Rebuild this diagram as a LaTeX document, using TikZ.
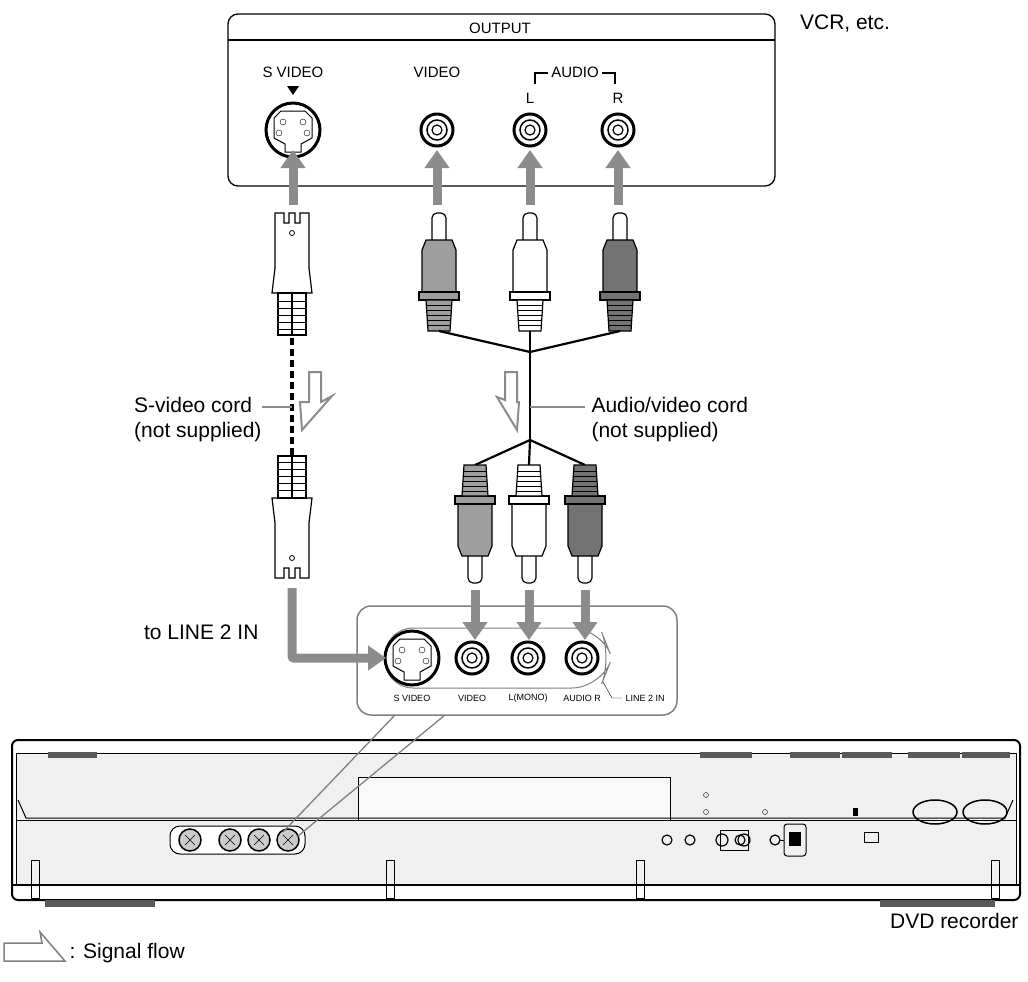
\documentclass[tikz,border=0pt]{standalone}
\usepackage{fontspec}
\setmainfont{Liberation Sans}
\usetikzlibrary{arrows.meta}
\definecolor{fl}{gray}{0.55}
\definecolor{pg}{gray}{0.62}
\definecolor{dg}{gray}{0.45}
\tikzset{
  flow/.style={line width=9pt,draw=fl,-{Triangle[width=24pt,length=18pt]}},
  lbl/.style={font=\fontsize{21}{25}\selectfont,align=left},
  sm/.style={font=\fontsize{15}{18}\selectfont},
  tiny/.style={font=\fontsize{9}{11}\selectfont},
  hollow/.style={draw=fl,line width=2pt,fill=white},
  ln/.style={line width=1.2pt},
  jack/.pic={\draw[line width=3pt,fill=white] (0,0) circle (16);\draw[line width=1.5pt] (0,0) circle (10);\draw[line width=1.2pt](0,0) circle (5);},
  sjack/.pic={\draw[line width=3pt,fill=white] (0,0) circle (27);\draw[line width=1pt] (-19,-12) -- (-12,-19) -- (12,-19) -- (19,-12) -- (19,8) -- (8,14)--(8,22)--(-8,22)--(-8,14)--(-19,8)--cycle;
    \foreach \a/\b in {-10/-8,10/-8,-14/3,14/3}{\draw (\a,\b) circle (3);}},
  rca/.pic={\draw[ln,fill=white,rounded corners=5] (-7,28) -- (-7,0) -- (7,0) -- (7,28);
    \draw[ln,fill=\pcol] (-13,27) -- (13,27) -- (17,37) -- (17,79) -- (-17,79) -- (-17,37) -- cycle;
    \draw[ln,fill=\pcol] (-20,79) rectangle (20,87);
    \draw[ln,fill=\pcol] (-13,87) -- (13,87) -- (11,118) -- (-11,118) -- cycle;
    \foreach \y in {92,97,...,115}{\draw (-12,\y) -- (12,\y);}},
  svp/.pic={\draw[ln,fill=white] (-17,0) -- (-8,0) -- (-8,10) -- (-3,10) -- (-3,0) -- (3,0) -- (3,10) -- (8,10) -- (8,0) -- (17,0) -- (17,55) -- (20,80) -- (-20,80) -- (-17,55) -- cycle;
    \draw[line width=0.8pt] (0,20) circle (2.5);
    \draw[ln,fill=white] (-14,80) rectangle (14,122);
    \draw[ln] (0,80) -- (0,122);
    \foreach \y in {88,95,...,118}{\draw (-14,\y) -- (14,\y);}}
}
\newcommand{\pcol}{white}
\begin{document}
\begin{tikzpicture}[x=1pt,y=-1pt]
\useasboundingbox (0,0) rectangle (1028,982);
\fill[white] (0,0) rectangle (1028,982);
% top VCR panel
\draw[line width=1.3pt,rounded corners=10] (228,14) rectangle (775,186);
\draw[line width=1.2pt] (228,40) -- (775,40);
\node[sm] (out) at (500,28) {OUTPUT};
\node[lbl] (vcr) at (845,24) {VCR, etc.};
\node[sm] (tsv) at (293,72) {S VIDEO};
\node[sm] (tvid) at (437,72) {VIDEO};
\node[sm] (taud) at (575,72) {AUDIO};
\draw[line width=1.2pt] (535,84)--(535,73)--(548,73);
\draw[line width=1.2pt] (602,73)--(615,73)--(615,84);
\node[sm] (tl) at (530,98) {L};
\node[sm] (tr) at (618,98) {R};
\fill (287,86)--(299,86)--(293,95)--cycle;
\pic at (293,130) {sjack};
\pic at (437,130) {jack};
\pic at (530,130) {jack};
\pic at (618,130) {jack};
\foreach \x in {293,437,530,618}{\draw[flow] (\x,205) -- (\x,150);}
% S-video cord
\pic at (292,213) {svp};
\pic[yscale=-1,transform shape] at (292,578) {svp};
\draw[line width=4pt,dash pattern=on 7pt off 4pt] (292,338) -- (292,456);
% AV cord
\renewcommand{\pcol}{pg}\pic at (439,213) {rca};
\renewcommand{\pcol}{white}\pic at (530,213) {rca};
\renewcommand{\pcol}{dg}\pic at (620,213) {rca};
\coordinate (j1) at (530,352); \coordinate (j2) at (530,440);
\draw[line width=2.2pt] (439,331) -- (j1) -- (620,331);
\draw[line width=2.2pt] (530,331) -- (j2);
\draw[line width=2.2pt] (475,465) -- (j2) -- (585,465);
\draw[line width=2.2pt] (529,465) -- (j2);
\renewcommand{\pcol}{pg}\pic[yscale=-1,transform shape] at (475,583) {rca};
\renewcommand{\pcol}{white}\pic[yscale=-1,transform shape] at (529,583) {rca};
\renewcommand{\pcol}{dg}\pic[yscale=-1,transform shape] at (585,583) {rca};
% hollow flow arrows
\draw[hollow] (309,372) -- (321,372) -- (321,402) -- (332,396) -- (302,430) -- (300,402) -- (309,402) -- cycle;
\draw[hollow] (505,372) -- (517,372) -- (517,402) -- (519,402) -- (517,430) -- (497,397) -- (505,400) -- cycle;
% labels
\node[lbl,anchor=east] (svc) at (265,420) {S-video cord\\(not supplied)};
\draw[draw=fl,line width=1.3pt] (262,407) -- (292,407);
\node[lbl,anchor=west] (avc) at (588,420) {Audio/video cord\\(not supplied)};
\draw[draw=fl,line width=1.3pt] (530,407) -- (585,407);
\node[lbl,anchor=east] (l2) at (262,632) {to LINE 2 IN};
% recorder
\draw[line width=2pt,rounded corners=6] (12,740) rectangle (1020,900);
\draw[line width=1pt,fill=gray!12] (16,753) rectangle (1016,820);
\draw[line width=1pt,fill=gray!12] (16,820) rectangle (1016,885);
\draw[line width=1.2pt] (12,885) -- (1020,885);
\foreach \a/\b in {48/97,700/752,790/840,842/892,908/960,962/1010}{\fill[gray!70!black] (\a,752) rectangle (\b,758);}
\draw[line width=1pt,fill=gray!5] (358,777) rectangle (670,820);
\draw[line width=1pt] (18,800) -- (26,818) -- (1005,818) -- (1013,800);
\draw (706,795) circle (2.5);
\draw (706,812) circle (2.5);
\draw (765,812) circle (2.5);
\fill (853,808) rectangle (858,816);
\draw[line width=1.5pt] (935,812) ellipse (22 and 12);
\draw[line width=1.5pt] (985,812) ellipse (22 and 12);
\draw[line width=1pt,fill=white,rounded corners=10] (170,826) rectangle (305,854);
\foreach \x in {190,230,259,288}{\draw[line width=1.5pt,fill=gray!40] (\x,840) circle (11);\draw (\x-5,835)--(\x+5,845) (\x-5,845)--(\x+5,835);}
\foreach \x in {667,690,740,775}{\draw[line width=1.2pt] (\x,840) circle (5);}
\draw[line width=1pt] (720,830) rectangle (748,850);
\draw[line width=1.2pt] (722,840) circle (6);\draw[line width=1.2pt] (744,840) circle (6);
\draw[line width=1pt,rounded corners=3] (784,824) rectangle (806,856);
\fill (789,832) rectangle (801,846);
\draw (780,840)--(784,840);
\draw[line width=1pt] (864,832) rectangle (878,842);
\foreach \x in {35,390,640,995}{\draw[line width=1pt] (\x-4,860) rectangle (\x+4,898);}
\fill[gray!70!black] (45,900) rectangle (155,907);
\fill[gray!70!black] (880,900) rectangle (995,907);
\node[lbl,anchor=east] (dvd) at (1022,921) {DVD recorder};
% bottom panel
\draw[draw=gray,line width=1.5pt,fill=white,rounded corners=14] (357,606) rectangle (677,715);
\draw[draw=gray,line width=1pt,rounded corners=28] (385,688) -- (385,628) -- (600,628) -- (612,658) -- (600,688) -- cycle;
\pic at (412,658) {sjack};
\pic at (472,658) {jack};
\pic at (528,658) {jack};
\pic at (582,658) {jack};
\node[tiny] at (412,698) {S VIDEO};
\node[tiny] at (472,698) {VIDEO};
\node[tiny] at (528,698) {L(MONO)};
\node[tiny] at (582,698) {AUDIO R};
\node[tiny,anchor=west] at (622,698) {LINE 2 IN};
\draw (603,682) -- (612,698) -- (622,698);
\foreach \x in {475,529,585}{\draw[flow] (\x,590) -- (\x,640);}
\draw[flow,rounded corners=2] (292,588) -- (292,658) -- (386,658);
% callout
\draw[draw=gray,line width=1.3pt] (395,715) -- (283,832);
\draw[draw=gray,line width=1.3pt] (445,715) -- (298,836);
% legend
\draw[draw=gray,line width=1.5pt] (4,943) -- (42,943) -- (40,932) -- (65,961) -- (4,961) -- cycle;
\node[lbl,anchor=west] (sf) at (66,953) {: Signal flow};
\end{tikzpicture}
\end{document}
